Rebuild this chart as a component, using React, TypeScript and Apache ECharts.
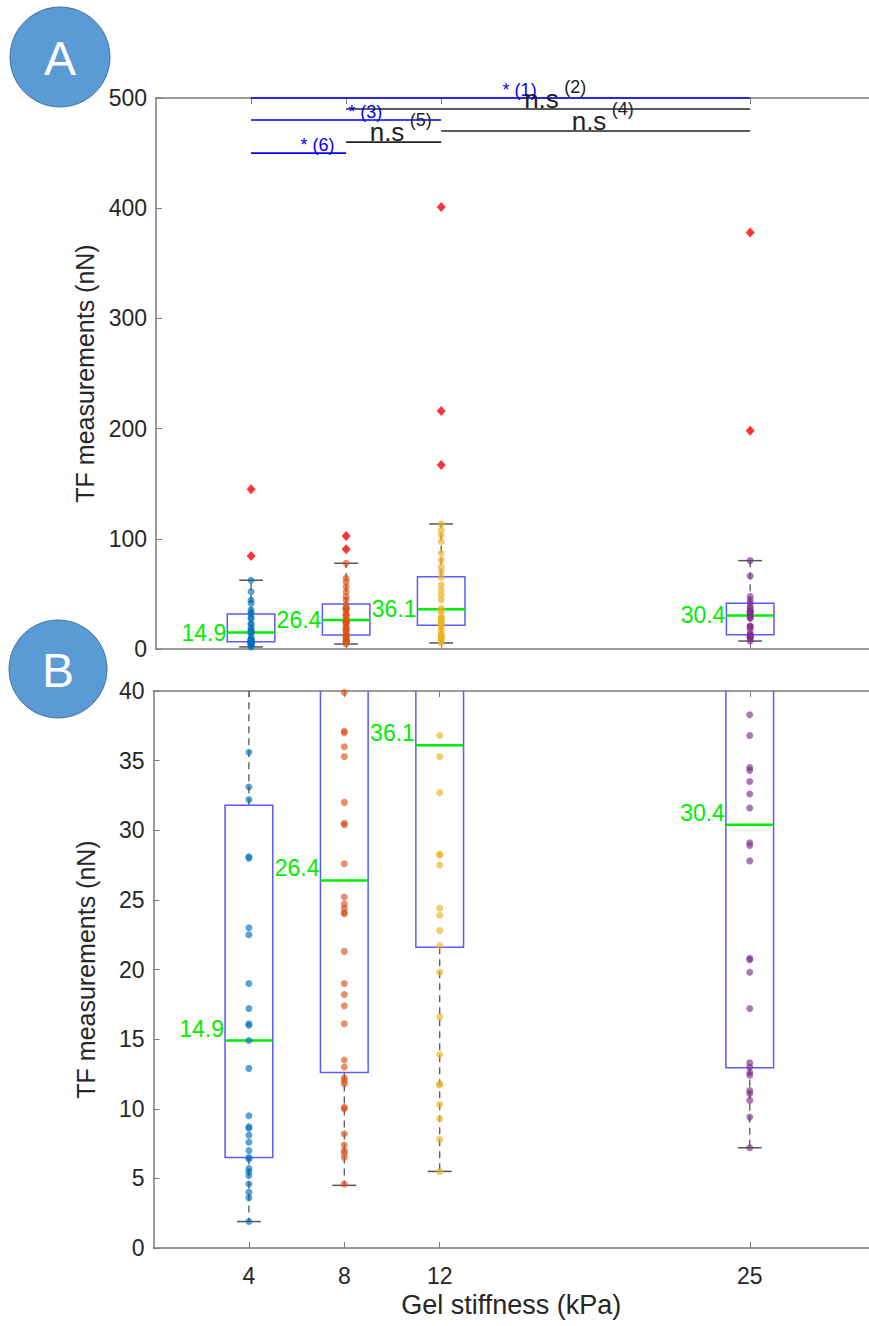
import React, { useEffect, useRef } from "react";
import * as echarts from "echarts";

// ---------- data ----------
const groups = [4, 8, 12, 25];
const groupColors = ["#0072BD", "#D95319", "#EDB120", "#7E2F8E"];
const xTicks = [4, 8, 12, 25];

const q1 = [6.5, 12.6, 21.6, 12.95];
const medians = [14.9, 26.4, 36.1, 30.4];
const q3 = [31.8, 40.9, 65.6, 41.5];
const whiskerLow = [1.9, 4.5, 5.5, 7.2];
const whiskerHigh = [62.4, 77.8, 113.5, 80.2];
const medianLabels = ["14.9", "26.4", "36.1", "30.4"];

const points4 = [1.9, 3.6, 4.0, 4.6, 5.2, 5.5, 5.7, 6.4, 6.5, 7.0, 7.6, 8.1, 8.6, 8.7, 9.5, 12.9, 14.9, 16.0, 16.1, 17.2, 19.0, 22.5, 23.0, 28.0, 28.1, 32.2, 33.1, 35.6, 41.5, 44.5, 52.0, 62.4];
const points8 = [4.6, 6.5, 6.8, 7.0, 7.4, 8.2, 10.0, 10.1, 11.8, 12.0, 12.2, 13.0, 13.5, 16.1, 17.4, 18.2, 19.0, 21.3, 24.0, 24.1, 24.4, 24.7, 25.2, 27.6, 30.4, 30.5, 32.0, 35.3, 36.0, 37.0, 37.1, 39.9, 44.5, 47.5, 52.0, 56.6, 61.1, 64.2, 77.8];
const points12 = [5.5, 7.8, 9.3, 10.3, 11.7, 11.8, 13.9, 16.6, 19.8, 21.7, 22.8, 23.9, 24.4, 27.5, 28.2, 28.3, 32.7, 35.3, 36.8, 44.5, 49.0, 53.6, 58.1, 65.1, 70.2, 74.7, 80.8, 86.9, 97.4, 103.5, 108.0, 113.5];
const points25 = [7.2, 9.4, 10.6, 11.1, 11.3, 12.4, 12.6, 13.0, 13.3, 17.2, 19.8, 20.7, 20.8, 27.8, 28.9, 29.1, 31.6, 32.6, 33.5, 34.3, 34.5, 36.8, 38.3, 41.5, 44.5, 47.5, 66.3, 80.2];
const groupPoints = [points4, points8, points12, points25];

const outliers4 = [84.4, 145];
const outliers8 = [90.5, 102.6];
const outliers12 = [167, 216, 401];
const outliers25 = [198, 378];
const groupOutliers = [outliers4, outliers8, outliers12, outliers25];

const yTicksA = [0, 100, 200, 300, 400, 500];
const yTicksB = [0, 5, 10, 15, 20, 25, 30, 35, 40];

// significance brackets (panel A)
const sigFrom = [4, 8, 4, 12, 8, 4];
const sigTo = [25, 25, 12, 25, 12, 8];
const sigLevel = [500, 490, 480, 470, 460, 450];
const sigMark = ["*", "n.s", "*", "n.s", "n.s", "*"];
const sigIndex = ["(1)", "(2)", "(3)", "(4)", "(5)", "(6)"];
const sigColor = ["#0000ff", "#222222", "#0000ff", "#222222", "#222222", "#0000ff"];

const xLabel = "Gel stiffness (kPa)";
const yLabel = "TF measurements (nN)";

// ---------- styles ----------
const FONT = "'Liberation Sans', Arial, Helvetica, sans-serif";
const AXIS_COLOR = "#7a7a7a";
const TEXT_COLOR = "#262626";
const BOX_HALF = 1.0;
const CAP_HALF = 0.5;

function boxSeries(xi: number, yi: number, clip: boolean) {
  return {
    type: "custom",
    xAxisIndex: xi,
    yAxisIndex: yi,
    clip,
    z: 2,
    silent: true,
    encode: { x: 0, y: [1, 2, 3, 4, 5] },
    data: groups.map((g, i) => [g, whiskerLow[i], q1[i], medians[i], q3[i], whiskerHigh[i]]),
    renderItem: (params: any, api: any) => {
      const x = api.value(0);
      const lo = api.value(1), a = api.value(2), m = api.value(3), b = api.value(4), hi = api.value(5);
      const tl = api.coord([x - BOX_HALF, b]);
      const br = api.coord([x + BOX_HALF, a]);
      const ml = api.coord([x - BOX_HALF, m]);
      const mr = api.coord([x + BOX_HALF, m]);
      const pHi = api.coord([x, hi]);
      const pLo = api.coord([x, lo]);
      const pB = api.coord([x, b]);
      const pA = api.coord([x, a]);
      const cL = api.coord([x - CAP_HALF, hi]);
      const cR = api.coord([x + CAP_HALF, hi]);
      const dL = api.coord([x - CAP_HALF, lo]);
      const dR = api.coord([x + CAP_HALF, lo]);
      const whiskerStyle = { stroke: "#555555", lineWidth: 1.3, lineDash: [7, 5] };
      const capStyle = { stroke: "#555555", lineWidth: 1.5 };
      return {
        type: "group",
        children: [
          { type: "line", shape: { x1: pB[0], y1: pB[1], x2: pHi[0], y2: pHi[1] }, style: whiskerStyle },
          { type: "line", shape: { x1: pA[0], y1: pA[1], x2: pLo[0], y2: pLo[1] }, style: whiskerStyle },
          { type: "line", shape: { x1: cL[0], y1: cL[1], x2: cR[0], y2: cR[1] }, style: capStyle },
          { type: "line", shape: { x1: dL[0], y1: dL[1], x2: dR[0], y2: dR[1] }, style: capStyle },
          {
            type: "rect",
            shape: { x: tl[0], y: tl[1], width: br[0] - tl[0], height: br[1] - tl[1] },
            style: { fill: "none", stroke: "#5a5aff", lineWidth: 1.5 },
          },
          {
            type: "line",
            z2: 20,
            shape: { x1: ml[0], y1: ml[1], x2: mr[0], y2: mr[1] },
            style: { stroke: "#00ee00", lineWidth: 2.5 },
          },
        ],
      };
    },
  };
}

function medianLabelSeries(xi: number, yi: number, offsetY: number) {
  return {
    type: "custom",
    xAxisIndex: xi,
    yAxisIndex: yi,
    z: 6,
    silent: true,
    encode: { x: 0, y: 1 },
    data: groups.map((g, i) => [g, medians[i]]),
    renderItem: (params: any, api: any) => {
      const p = api.coord([api.value(0) - BOX_HALF, api.value(1)]);
      return {
        type: "text",
        x: p[0] - 1,
        y: p[1] + offsetY,
        style: {
          text: medianLabels[params.dataIndex],
          fill: "#00ee00",
          fontSize: 23,
          fontFamily: FONT,
          align: "right",
          verticalAlign: "middle",
        },
      };
    },
  };
}

function pointSeries(xi: number, yi: number) {
  const out: any[] = [];
  groups.forEach((g, i) => {
    out.push({
      type: "scatter",
      xAxisIndex: xi,
      yAxisIndex: yi,
      z: 4,
      silent: true,
      symbol: "circle",
      symbolSize: 7,
      itemStyle: { color: groupColors[i], opacity: 0.65 },
      data: groupPoints[i].map((v) => [g, v]),
    });
  });
  out.push({
    type: "scatter",
    xAxisIndex: xi,
    yAxisIndex: yi,
    z: 5,
    silent: true,
    symbol: "diamond",
    symbolSize: [9, 10],
    itemStyle: { color: "#ff0000" },
    data: groups.flatMap((g, i) => groupOutliers[i].map((v) => [g, v])),
  });
  return out;
}

const sigSeries = {
  type: "custom",
  xAxisIndex: 0,
  yAxisIndex: 0,
  z: 10,
  silent: true,
  encode: { x: [0, 1], y: 2 },
  data: sigFrom.map((f, i) => [f, sigTo[i], sigLevel[i]]),
  renderItem: (params: any, api: any) => {
    const i = params.dataIndex;
    const p1 = api.coord([api.value(0), api.value(2)]);
    const p2 = api.coord([api.value(1), api.value(2)]);
    const color = sigColor[i];
    const mid = (p1[0] + p2[0]) / 2;
    const children: any[] = [
      { type: "line", shape: { x1: p1[0], y1: p1[1], x2: p2[0], y2: p2[1] }, style: { stroke: color, lineWidth: 1.6 } },
    ];
    if (sigMark[i] === "*") {
      children.push({
        type: "text",
        x: mid + 2,
        y: p1[1] - 8,
        style: { text: "* " + sigIndex[i], fill: color, fontSize: 18, fontFamily: FONT, align: "left", verticalAlign: "middle" },
      });
    } else {
      children.push({
        type: "text",
        x: mid - 24,
        y: p1[1] - 10,
        style: { text: sigMark[i], fill: color, fontSize: 26, fontFamily: FONT, align: "left", verticalAlign: "middle" },
      });
      children.push({
        type: "text",
        x: mid + 16,
        y: p1[1] - 22,
        style: { text: sigIndex[i], fill: color, fontSize: 18, fontFamily: FONT, align: "left", verticalAlign: "middle" },
      });
    }
    return { type: "group", children };
  },
};

function xAxisDef(gridIndex: number, position: "top" | "bottom", labels: boolean, name?: string) {
  return {
    type: "value",
    gridIndex,
    position,
    min: 0,
    max: 30,
    name: name,
    nameLocation: "middle",
    nameGap: 43,
    nameTextStyle: { fontSize: 27, color: TEXT_COLOR, fontFamily: FONT },
    axisLine: { show: true, onZero: false, lineStyle: { color: AXIS_COLOR, width: 1.5 } },
    axisTick: { show: true, inside: true, length: 6, customValues: xTicks, lineStyle: { color: AXIS_COLOR } },
    axisLabel: {
      show: labels,
      customValues: xTicks,
      margin: 16,
      fontSize: 23,
      color: TEXT_COLOR,
      fontFamily: FONT,
    },
    splitLine: { show: false },
  };
}

function yAxisDef(gridIndex: number, max: number, interval: number) {
  return {
    type: "value",
    gridIndex,
    min: 0,
    max,
    interval,
    name: yLabel,
    nameLocation: "middle",
    nameGap: 55,
    nameTextStyle: { fontSize: 25, color: TEXT_COLOR, fontFamily: FONT },
    axisLine: { show: true, lineStyle: { color: AXIS_COLOR, width: 1.5 } },
    axisTick: { show: true, inside: true, length: 6, lineStyle: { color: AXIS_COLOR } },
    axisLabel: { margin: 9, fontSize: 23, color: TEXT_COLOR, fontFamily: FONT },
    splitLine: { show: false },
  };
}

const option: any = {
  animation: false,
  backgroundColor: "#ffffff",
  grid: [
    { left: 156, top: 98, width: 724, height: 551 },
    { left: 153.5, top: 691, width: 724, height: 557 },
  ],
  xAxis: [
    xAxisDef(0, "bottom", false),
    xAxisDef(0, "top", false),
    xAxisDef(1, "bottom", true, xLabel),
    xAxisDef(1, "top", false),
  ],
  yAxis: [yAxisDef(0, yTicksA[yTicksA.length - 1], yTicksA[1] - yTicksA[0]), yAxisDef(1, yTicksB[yTicksB.length - 1], yTicksB[1] - yTicksB[0])],
  series: [
    boxSeries(0, 0, false),
    ...pointSeries(0, 0),
    medianLabelSeries(0, 0, 0),
    sigSeries,
    boxSeries(2, 1, true),
    ...pointSeries(2, 1),
    medianLabelSeries(2, 1, -12),
  ],
  graphic: [
    { type: "circle", shape: { cx: 60, cy: 57, r: 50 }, style: { fill: "#5B9BD5", stroke: "#41719C", lineWidth: 1 } },
    { type: "text", x: 60, y: 58, style: { text: "A", fill: "#ffffff", fontSize: 48, fontFamily: FONT, align: "center", verticalAlign: "middle" } },
    { type: "circle", shape: { cx: 58, cy: 669, r: 49 }, style: { fill: "#5B9BD5", stroke: "#41719C", lineWidth: 1 } },
    { type: "text", x: 58, y: 670, style: { text: "B", fill: "#ffffff", fontSize: 48, fontFamily: FONT, align: "center", verticalAlign: "middle" } },
  ],
};

export default function App() {
  const ref = useRef<HTMLDivElement>(null);
  useEffect(() => {
    const chart = echarts.init(ref.current!, null, { renderer: "svg" });
    chart.setOption(option);
    return () => chart.dispose();
  }, []);
  return (
    <div
      ref={ref}
      style={{ position: "fixed", left: 0, top: 0, width: 869, height: 1326, background: "#ffffff" }}
    />
  );
}
